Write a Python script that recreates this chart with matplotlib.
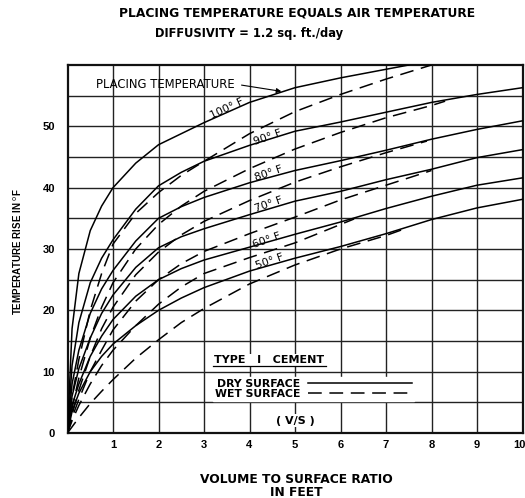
import matplotlib
matplotlib.use("Agg")
import matplotlib.pyplot as plt
from matplotlib.lines import Line2D
from matplotlib.transforms import ScaledTranslation

plt.rcParams['font.family'] = ['Liberation Sans', 'DejaVu Sans']
WIDE = ['DejaVu Sans', 'Liberation Sans']

# ---------------- data ----------------
temps = ["100° F", "90° F", "80° F", "70° F", "60° F", "50° F"]

dry_100_x = [0, 0.1, 0.25, 0.5, 0.75, 1, 1.5, 2, 2.5, 3, 4, 5, 6, 7, 7.5]
dry_100_y = [0, 17, 26, 33, 37, 40, 44, 47, 48.8, 50.6, 53.9, 56.3, 57.9, 59.3, 60]
wet_100_x = [0, 0.1, 0.25, 0.5, 0.75, 1, 1.5, 2, 2.5, 3, 4, 5, 6, 7, 8]
wet_100_y = [0, 6, 12, 20, 26, 30.8, 35.8, 39.2, 42, 44.3, 48.8, 52.4, 55.2, 57.7, 60]

dry_x = [0, 0.1, 0.25, 0.5, 0.75, 1, 1.5, 2, 2.5, 3, 4, 5, 6, 7, 8, 9, 10]
dry_90_y = [0, 11, 18, 24.5, 28.5, 31.5, 36.5, 40.3, 42.5, 44.3, 46.9, 49.2, 50.7, 52.3, 53.9, 55.2, 56.3]
dry_80_y = [0, 8, 13.5, 19.5, 23.5, 26.5, 31.3, 35.0, 36.9, 38.4, 40.8, 42.8, 44.4, 46.1, 47.9, 49.5, 50.9]
dry_70_y = [0, 6, 10.5, 15.5, 19.5, 22.5, 27, 30.2, 32, 33.3, 35.6, 37.8, 39.4, 41.3, 43, 44.9, 46.2]
dry_60_y = [0, 4.5, 8, 12.5, 15.8, 18.5, 22.3, 25, 26.8, 28.2, 30.3, 32.4, 34.4, 36.6, 38.6, 40.4, 41.6]
dry_50_y = [0, 3.5, 6.5, 10, 12.5, 14.5, 17.5, 20, 22, 23.7, 26.4, 28.5, 30.4, 32.5, 34.8, 36.7, 38.1]

wet_90_x = [0, 0.1, 0.25, 0.5, 0.75, 1, 1.5, 2, 2.5, 3, 4, 5, 6, 7, 8, 8.3]
wet_90_y = [0, 4, 9, 15.5, 20.5, 24.5, 30, 34, 37, 39.4, 43.1, 46.3, 49, 51.4, 53.4, 54.1]
wet_80_x = [0, 0.1, 0.25, 0.5, 0.75, 1, 1.5, 2, 2.5, 3, 4, 5, 6, 7, 7.9]
wet_80_y = [0, 3, 7, 12.5, 17, 20.5, 25.8, 29.5, 32.3, 34.5, 37.9, 40.9, 43.4, 45.7, 47.6]
wet_70_x = [0, 0.1, 0.25, 0.5, 0.75, 1, 1.5, 2, 2.5, 3, 4, 5, 6, 7, 8]
wet_70_y = [0, 2.5, 5.5, 10, 13.5, 16.8, 21.5, 25, 27.6, 29.6, 32.5, 35.2, 38, 40.4, 42.8]
wet_60_x = [0, 0.1, 0.25, 0.5, 0.75, 1, 1.5, 2, 2.5, 3, 4, 5, 6, 6.3]
wet_60_y = [0, 2, 4.5, 8, 11, 13.5, 17.5, 21, 23.8, 26, 28.6, 31, 34, 34.9]
wet_50_x = [0, 0.1, 0.25, 0.5, 0.75, 1, 1.5, 2, 2.5, 3, 4, 5, 6, 7, 7.45]
wet_50_y = [0, 1, 2.5, 4.8, 6.8, 8.7, 12.2, 15.2, 18, 20.3, 24.3, 27.4, 30, 32.2, 33.4]

# label anchor positions (x, y, rotation) along the dry curves
label_x = [3.5, 4.4, 4.42, 4.42, 4.38, 4.45]
label_y = [52.9, 48.2, 42.3, 37.3, 31.4, 28.0]
label_rot = [25, 19, 19, 19, 19, 19]

x_ticks = [1, 2, 3, 4, 5, 6, 7, 8, 9, 10]
y_ticks = [0, 10, 20, 30, 40, 50]
y_minor = [5, 15, 25, 35, 45, 55]

# ---------------- figure ----------------
W, H = 525, 498
fig = plt.figure(figsize=(W / 100, H / 100), dpi=100)
ax = fig.add_axes([67.5 / W, 1 - 433 / H, 455 / W, 368 / H])
ax.set_xlim(0, 10)
ax.set_ylim(0, 60)
ax.set_xticks(x_ticks)
ax.set_xticks([], minor=True)
ax.set_yticks(y_ticks)
ax.set_yticks(y_minor, minor=True)
ax.grid(True, which='both', color='#222222', lw=1.0)
ax.set_axisbelow(True)
ax.tick_params(which='both', length=0)
ax.tick_params(axis='x', pad=5)
ax.tick_params(axis='y', pad=9)
for lab in ax.get_xticklabels() + ax.get_yticklabels():
    lab.set_fontsize(8)
    lab.set_fontweight('bold')
last = ax.get_xticklabels()[-1]
last.set_horizontalalignment('right')
last.set_transform(last.get_transform() + ScaledTranslation(2.5 / 72, 0, fig.dpi_scale_trans))
for s in ax.spines.values():
    s.set_linewidth(1.6)
    s.set_color('#111111')

lw = 1.1
dash = (0, (9, 5))
dry_series = [(dry_100_x, dry_100_y), (dry_x, dry_90_y), (dry_x, dry_80_y),
              (dry_x, dry_70_y), (dry_x, dry_60_y), (dry_x, dry_50_y)]
wet_series = [(wet_100_x, wet_100_y), (wet_90_x, wet_90_y), (wet_80_x, wet_80_y),
              (wet_70_x, wet_70_y), (wet_60_x, wet_60_y), (wet_50_x, wet_50_y)]
dry_line = wet_line = None
for (xs, ys) in dry_series:
    dry_line, = ax.plot(xs, ys, color='k', lw=lw, zorder=3)
for (xs, ys) in wet_series:
    wet_line, = ax.plot(xs, ys, color='k', lw=lw, ls=dash, zorder=3)

for t, lx, ly, r in zip(temps, label_x, label_y, label_rot):
    ax.text(lx, ly, t, fontsize=7.8, rotation=r, ha='center', va='center',
            rotation_mode='anchor', zorder=4, family=WIDE)

ax.annotate("PLACING TEMPERATURE", xy=(4.7, 55.7), xytext=(2.15, 56.9),
            fontsize=8.4, ha='center', va='center', zorder=4, family=WIDE,
            arrowprops=dict(arrowstyle='-|>', lw=0.8, color='k',
                            relpos=(1, 0.5), shrinkA=3, shrinkB=0,
                            mutation_scale=7))

# legend block
leg = ax.legend([dry_line, wet_line], ["DRY SURFACE", "WET SURFACE"],
                markerfirst=False, loc='center', bbox_to_anchor=(5.4, 7.2),
                bbox_transform=ax.transData, frameon=True, fancybox=False,
                framealpha=1, edgecolor='white', facecolor='white',
                handlelength=9.6, handletextpad=0.7, labelspacing=0.0,
                borderpad=0.2, prop=dict(size=7.8, weight='bold', family=WIDE))
leg.set_zorder(2.5)

type_txt = ax.text(4.44, 11.9, "TYPE   I   CEMENT", fontsize=8, fontweight='bold',
                   ha='center', va='center', zorder=4, family=WIDE,
                   bbox=dict(facecolor='white', edgecolor='none', pad=1.0))
ax.text(5.01, 2.0, "( V/S )", fontsize=8, fontweight='bold', ha='center',
        va='center', zorder=4, family=WIDE,
        bbox=dict(facecolor='white', edgecolor='none', pad=1.0))

fig.canvas.draw()
bb = type_txt.get_window_extent()
fig.add_artist(Line2D([bb.x0 - 1, bb.x1 + 1], [bb.y0 - 1.0, bb.y0 - 1.0],
                      transform=None, color='k', lw=0.9))

# titles and axis labels
fig.text(297 / W, 1 - 13 / H, "PLACING TEMPERATURE EQUALS AIR TEMPERATURE",
         ha='center', va='center', fontsize=8.8, fontweight='bold', family=WIDE)
fig.text(249 / W, 1 - 33 / H, "DIFFUSIVITY = 1.2 sq. ft./day",
         ha='center', va='center', fontsize=8.3, fontweight='bold', family=WIDE)
fig.text(18 / W, 1 - 252 / H, "TEMPERATURE RISE IN $^{\\mathrm{o}}$F", rotation=90,
         ha='center', va='center', fontsize=7, fontweight='bold',
         family=['Liberation Sans Narrow', 'Liberation Sans', 'DejaVu Sans'])
fig.text(296 / W, 1 - 486 / H, "VOLUME TO SURFACE RATIO\nIN FEET",
         ha='center', va='center', fontsize=8.8, fontweight='bold',
         linespacing=0.95, family=WIDE)

fig.savefig("out.png", dpi=100)
